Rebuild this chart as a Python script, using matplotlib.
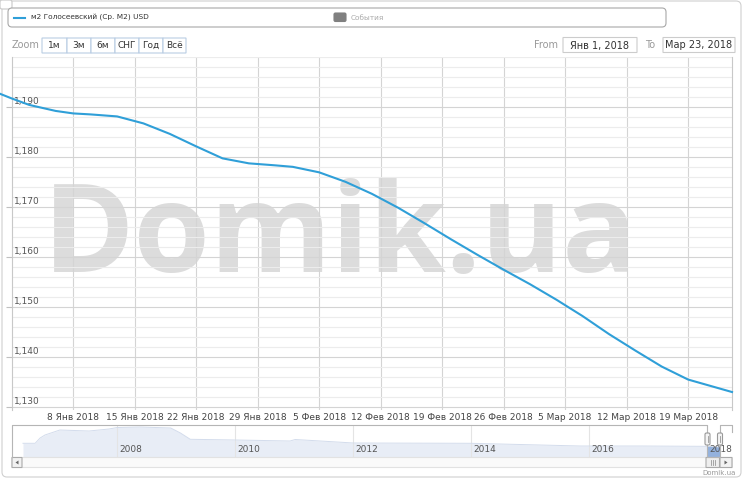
import matplotlib
matplotlib.use('Agg')
import matplotlib.pyplot as plt
import matplotlib.ticker as mticker
from matplotlib.patches import FancyBboxPatch, Polygon
from matplotlib.lines import Line2D
from matplotlib.transforms import Affine2D
import pandas as pd

# ---- data ----
series_name = 'м2 Голосеевский (Ср. М2) USD'
events_label = 'События'
months_ru = ['Янв', 'Фев', 'Мар', 'Апр', 'Май', 'Июн',
             'Июл', 'Авг', 'Сен', 'Окт', 'Ноя', 'Дек']
zoom_buttons = ['1м', '3м', '6м', 'СНГ', 'Год', 'Всё']

dates = ['2017-12-30', '2018-01-01', '2018-01-03', '2018-01-06', '2018-01-08',
         '2018-01-10', '2018-01-13', '2018-01-16', '2018-01-19', '2018-01-22',
         '2018-01-25', '2018-01-28', '2018-01-31', '2018-02-02', '2018-02-05',
         '2018-02-08', '2018-02-11', '2018-02-14', '2018-02-17', '2018-02-20',
         '2018-02-23', '2018-02-26', '2018-03-01', '2018-03-04', '2018-03-07',
         '2018-03-10', '2018-03-13', '2018-03-16', '2018-03-19', '2018-03-22',
         '2018-03-24']
usd_m2 = [1193.1, 1191.7, 1190.4, 1189.2, 1188.7,
          1188.5, 1188.1, 1186.7, 1184.6, 1182.1,
          1179.7, 1178.7, 1178.3, 1178.0, 1176.9,
          1175.0, 1172.6, 1169.8, 1166.7, 1163.5,
          1160.4, 1157.4, 1154.5, 1151.4, 1148.1,
          1144.5, 1141.2, 1138.0, 1135.4, 1133.9,
          1132.9]

nav_dates = ['2006-06-01', '2006-08-15', '2006-09-15', '2006-10-15', '2006-12-15',
             '2007-01-15', '2007-07-15', '2007-11-15', '2008-01-05', '2008-05-25',
             '2008-12-01', '2009-01-30', '2009-04-01', '2010-01-10', '2010-12-10',
             '2011-01-10', '2011-06-15', '2012-01-05', '2014-01-01', '2014-11-01',
             '2015-11-10', '2016-11-15', '2017-12-31', '2018-03-23']
nav_usd_m2 = [1466, 1466, 1943, 2213, 2510,
              2663, 2573, 2753, 2888, 2933,
              2843, 2393, 1826, 1763, 1673,
              1808, 1673, 1493, 1466, 1358,
              1223, 1223, 1192, 1133]

y_ticks = [1130, 1140, 1150, 1160, 1170, 1180, 1190]
x_ticks = ['2018-01-08', '2018-01-15', '2018-01-22', '2018-01-29', '2018-02-05',
           '2018-02-12', '2018-02-19', '2018-02-26', '2018-03-05', '2018-03-12',
           '2018-03-19']
nav_years = [2008, 2010, 2012, 2014, 2016, 2018]
range_from = '2018-01-01'
range_to = '2018-03-23'

# ---- figure ----
W, H = 744, 480
fig = plt.figure(figsize=(W / 100, H / 100), dpi=100)
px = Affine2D().scale(1 / W, -1 / H).translate(0, 1) + fig.transFigure

line_color = '#2f9fd8'
grid_major = '#d4d4d4'
grid_minor = '#ececec'


def rbox(x0, y0, x1, y1, r=0, fc='white', ec='#cccccc', lw=0.8, z=1):
    p = FancyBboxPatch((x0, y0), x1 - x0, y1 - y0,
                       boxstyle='round,pad=0,rounding_size=%s' % r,
                       transform=px, fc=fc, ec=ec, lw=lw, zorder=z)
    fig.add_artist(p)
    return p


def ptext(x, y, s, **kw):
    kw.setdefault('transform', px)
    return fig.text(x, y, s, **kw)


def ru_label(d):
    return '%d %s %d' % (d.day, months_ru[d.month - 1], d.year)


# outer frame + top-left corner piece
rbox(2, 1, 741, 477, r=5, fc='none', ec='#d0d0d0', z=-1)
rbox(0, 0, 12, 9, r=2, fc='white', ec='#c8c8c8')

# legend box
rbox(8, 8, 666, 27, r=4, fc='white', ec='#a8a8a8')
fig.add_artist(Line2D([14, 25], [17.5, 17.5], transform=px, color=line_color, lw=1.5))
ptext(31, 17.7, series_name, fontsize=5.3, color='#333333', va='center', ha='left')
rbox(334, 13, 346, 21.5, r=1.5, fc='#808080', ec='#808080')
ptext(351, 17.7, events_label, fontsize=5.3, color='#aaaaaa', va='center', ha='left')

# zoom buttons
ptext(12, 45.5, 'Zoom', fontsize=7, color='#999999', va='center', ha='left')
edges = [42, 67, 91, 115, 139, 163, 186]
for i, lab in enumerate(zoom_buttons):
    rbox(edges[i], 38, edges[i + 1], 53, fc='white', ec='#b9cde3', lw=0.8)
    ptext((edges[i] + edges[i + 1]) / 2, 45.5, lab, fontsize=6.5,
          color='#333333', va='center', ha='center')

# range inputs
t0, t1 = pd.Timestamp(range_from), pd.Timestamp(range_to)
ptext(534, 45.5, 'From', fontsize=7, color='#999999', va='center', ha='left')
rbox(563, 37.5, 637, 52.5, fc='white', ec='#cccccc')
ptext(600, 45.5, '%s %d, %d' % (months_ru[t0.month - 1], t0.day, t0.year),
      fontsize=7, color='#333333', va='center', ha='center')
ptext(645, 45.5, 'To', fontsize=7, color='#999999', va='center', ha='left')
rbox(663, 37.5, 735, 52.5, fc='white', ec='#cccccc')
ptext(699, 45.5, '%s %d, %d' % (months_ru[t1.month - 1], t1.day, t1.year),
      fontsize=7, color='#333333', va='center', ha='center')

# ---- main plot ----
ax = fig.add_axes([11.7 / W, 1 - 410 / H, (732 - 11.7) / W, (410 - 57) / H])
x = pd.to_datetime(dates)
ax.plot(x, usd_m2, color=line_color, lw=1.5, zorder=3, clip_on=False,
        solid_joinstyle='round')
ax.set_xlim(pd.Timestamp('2018-01-01'), pd.Timestamp('2018-03-24'))
ax.set_ylim(1129.3, 1200)

ax.set_yticks(y_ticks)
ax.yaxis.set_minor_locator(mticker.MultipleLocator(2))
xt = pd.to_datetime(x_ticks)
ax.set_xticks(xt)
ax.set_xticklabels([ru_label(d) for d in xt])
ax.grid(which='minor', axis='y', color=grid_minor, lw=0.8)
ax.grid(which='major', axis='y', color=grid_major, lw=0.8)
ax.grid(which='major', axis='x', color=grid_major, lw=0.8)
ax.tick_params(axis='y', which='major', length=4, width=0.8, color='#c0c0c0',
               labelleft=False)
ax.tick_params(axis='y', which='minor', length=0)
ax.tick_params(axis='x', length=0, pad=2, labelsize=6.5, labelcolor='#444444')
for s in ['top', 'bottom']:
    ax.spines[s].set_visible(False)
for s in ['left', 'right']:
    ax.spines[s].set_color('#c8c8c8')
    ax.spines[s].set_linewidth(0.8)

for v in y_ticks:
    ax.annotate('{:,}'.format(v), xy=(0, v), xycoords=('axes fraction', 'data'),
                xytext=(1.8, 0.6), textcoords='offset points', ha='left',
                va='bottom', fontsize=6.5, color='#555555', zorder=2)

# watermark behind the grid
ax.text(340, 240, 'Domik.ua', transform=px, ha='center', va='center',
        fontsize=89, fontweight='bold', family='Open Sans',
        color='#dcdcdc', zorder=1, clip_on=False)

# ---- navigator ----
nx = fig.add_axes([12 / W, 1 - 457 / H, 720 / W, 32 / H])
nd = pd.to_datetime(nav_dates)
nx.set_xlim(pd.Timestamp('2006-03-25'), pd.Timestamp('2018-06-05'))
nx.set_ylim(233, 3113)
nx.fill_between(nd, nav_usd_m2, 233, color='#e8edf6', lw=0, zorder=1)
nx.plot(nd, nav_usd_m2, color='#d3dcec', lw=0.7, zorder=2)
sel = (x >= t0) & (x <= pd.Timestamp('2018-03-24'))
nx.fill_between(x[sel], [v for v, m in zip(usd_m2, sel) if m], 233,
                color='#93b1dd', lw=0, zorder=2)
nx.set_xticks([pd.Timestamp('%d-01-01' % y) for y in nav_years])
nx.grid(axis='x', color='#e4e4e4', lw=0.8)
nx.set_yticks([])
nx.tick_params(axis='x', length=0, labelbottom=False)
for s in nx.spines.values():
    s.set_visible(False)
for y in nav_years:
    nx.annotate(str(y), xy=(pd.Timestamp('%d-01-01' % y), 0),
                xycoords=('data', 'axes fraction'), xytext=(2, 2.3),
                textcoords='offset points', ha='left', va='bottom',
                fontsize=6.5, color='#555555', zorder=3)

# navigator outline and handles
fig.add_artist(Line2D([12, 12, 707, 707, 720, 720, 732, 732],
                      [457, 425, 425, 457, 457, 425, 425, 432],
                      transform=px, color='#b5b5b5', lw=0.8))
for hx in (705, 717.5):
    rbox(hx, 433, hx + 5, 445, r=1.5, fc='#f4f4f4', ec='#999999', lw=0.8, z=3)
    fig.add_artist(Line2D([hx + 2.5, hx + 2.5], [436, 442], transform=px,
                          color='#999999', lw=0.6, zorder=4))

# scrollbar
rbox(12, 457.5, 732, 467.5, fc='#fafafa', ec='#e2e2e2')
rbox(12, 457.5, 22, 467.5, fc='#f2f2f2', ec='#aaaaaa')
rbox(706, 457.5, 719.5, 467.5, fc='#eeeeee', ec='#aaaaaa')
rbox(720, 457.5, 732, 467.5, fc='#f2f2f2', ec='#aaaaaa')
fig.add_artist(Polygon([[18.5, 460.5], [18.5, 464.5], [15.5, 462.5]], closed=True,
                       transform=px, fc='#666666', ec='none', zorder=3))
fig.add_artist(Polygon([[724.5, 460.5], [724.5, 464.5], [727.5, 462.5]], closed=True,
                       transform=px, fc='#666666', ec='none', zorder=3))
for gx in (710.5, 712.75, 715):
    fig.add_artist(Line2D([gx, gx], [460, 465], transform=px, color='#999999',
                          lw=0.6, zorder=3))

ptext(719, 473, 'Domik.ua', fontsize=5, color='#999999', va='center', ha='center')

fig.savefig('out.png', dpi=100)
